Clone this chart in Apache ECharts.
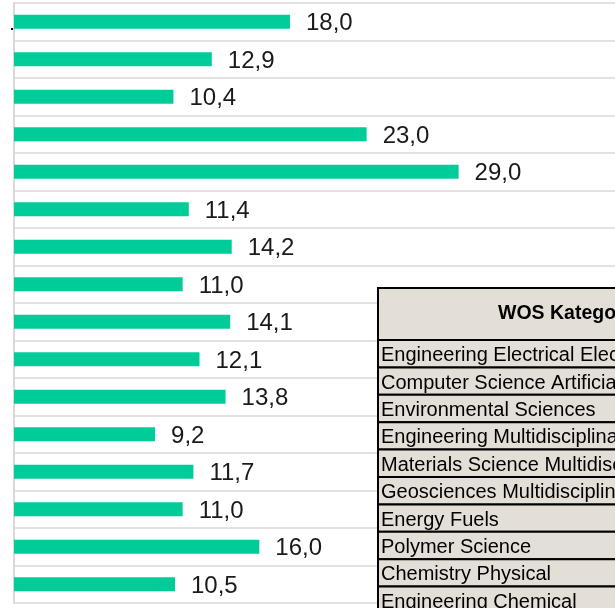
<!DOCTYPE html>
<html>
<head>
<meta charset="utf-8">
<script src="https://cdn.jsdelivr.net/npm/echarts@6/dist/echarts.min.js"></script>
<style>
  html, body { margin: 0; padding: 0; background: #fff; }
  #chart { width: 615px; height: 608px; }
</style>
</head>
<body>
<div id="chart"></div>
<script>
// categories top to bottom (axis labels are not shown in the picture)
const categories = ['K1', 'K2', 'K3', 'K4', 'K5', 'K6', 'K7', 'K8', 'K9', 'K10', 'K11', 'K12', 'K13', 'K14', 'K15', 'K16']
const values = [18.0, 12.9, 10.4, 23.0, 29.0, 11.4, 14.2, 11.0, 14.1, 12.1, 13.8, 9.2, 11.7, 11.0, 16.0, 10.5]

// overlaid table
const tableHeader = 'WOS Kategorie'
const tableRows = [
  'Engineering Electrical Electronic',
  'Computer Science Artificial Intelligence',
  'Environmental Sciences',
  'Engineering Multidisciplinary',
  'Materials Science Multidisciplinary',
  'Geosciences Multidisciplinary',
  'Energy Fuels',
  'Polymer Science',
  'Chemistry Physical',
  'Engineering Chemical'
]

const font = '"Liberation Sans", Arial, sans-serif'
const tableX = 378
const tableW = 300
const headerTop = 288
const headerH = 52
const rowH = 27.4
const tableFill = '#e4dfd6'

const tableGraphics = [
  {
    type : 'rect',
    z : 100,
    shape : { x : tableX, y : headerTop, width : tableW, height : headerH },
    style : { fill : tableFill, stroke : '#000', lineWidth : 2 }
  },
  {
    type : 'text',
    z : 101,
    x : 498,
    y : headerTop + headerH / 2,
    style : {
      text : tableHeader,
      font : 'bold 19.5px ' + font,
      fill : '#000',
      textVerticalAlign : 'middle'
    }
  }
]
tableRows.forEach( ( name, i ) => {
  const y = headerTop + headerH + i * rowH
  tableGraphics.push( {
    type : 'rect',
    z : 100,
    shape : { x : tableX, y : y, width : tableW, height : rowH },
    style : { fill : tableFill, stroke : '#000', lineWidth : 2 }
  } )
  tableGraphics.push( {
    type : 'text',
    z : 101,
    x : 381,
    y : y + rowH / 2 + 2,
    style : {
      text : name,
      font : '20px ' + font,
      fill : '#000',
      textVerticalAlign : 'middle'
    }
  } )
} )

const chart = echarts.init( document.getElementById( 'chart' ) )
chart.setOption( {
  animation : false,
  grid : {
    left : 14,
    top : 3,
    right : 0,
    height : 600
  },
  xAxis : {
    type : 'value',
    min : 0,
    max : 39.2,
    show : false
  },
  yAxis : {
    type : 'category',
    data : categories,
    inverse : true,
    axisLabel : { show : false },
    axisTick : { show : false },
    axisLine : { show : true, lineStyle : { color : '#d9d9d9', width : 2 } },
    splitLine : { show : true, lineStyle : { color : '#d9d9d9', width : 1.5 } }
  },
  series : [
    {
      type : 'bar',
      data : values,
      barWidth : 14,
      itemStyle : { color : '#00cc99' },
      label : {
        show : true,
        position : 'right',
        distance : 16,
        offset : [0, 2],
        color : '#1a1a1a',
        fontSize : 24,
        fontFamily : font,
        formatter : p => p.value.toFixed( 1 ).replace( '.', ',' )
      }
    }
  ],
  graphic : [
    {
      type : 'rect',
      z : 100,
      shape : { x : 11, y : 28, width : 2, height : 2 },
      style : { fill : '#000' }
    }
  ].concat( tableGraphics )
} )
</script>
</body>
</html>
